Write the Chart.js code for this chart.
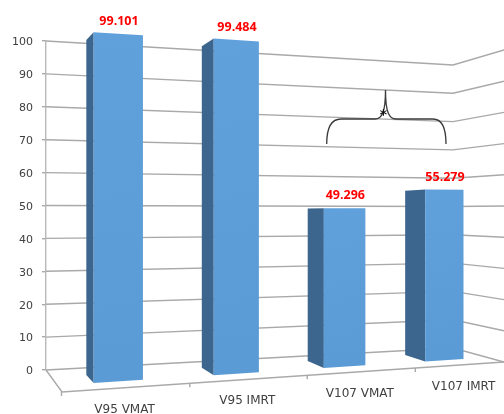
<!DOCTYPE html>
<html>
<head>
<meta charset="utf-8">
<script src="https://cdn.jsdelivr.net/npm/chart.js@4/dist/chart.umd.min.js"></script>
<style>
    html, body { margin: 0; padding: 0; background: #fff; }
    canvas { display: block; }
</style>
</head>
<body>
<canvas id="chart" width="504" height="414"></canvas>
<script>
const categories = ['V95 VMAT', 'V95 IMRT', 'V107 VMAT', 'V107 IMRT'];
const values = [99.101, 99.484, 49.296, 55.279];
const valueLabels = ['99.101', '99.484', '49.296', '55.279'];

const FRONT_COLOR = '#5b9bd5';
const SIDE_COLOR = '#3c668e';
const GRID_COLOR = '#a9a9a9';

// Excel style 3D view: the y scale is the left wall, everything else is projected from it
function stepPos(chart, u) {
    const xs = chart.scales.x;
    const p0 = xs.getPixelForValue(0);
    return (u - p0) / (xs.getPixelForValue(1) - p0);
}

function screenX(t) {
    return (118.5 + 128.61 * t) / (1 + 0.04487 * t);
}

function backX(x) {
    return 0.9616 * x - 3.7;
}

function forwardX(x) {
    return (x + 3.7) / 0.9616;
}

function frontY(x, v) {
    return 383 - 0.065 * (x - 94) - v * (3.54 - 0.0013 * (x - 94));
}

function backY(x, v) {
    return 375 - 0.0628 * (x - 86.7) - v * (3.38 - 0.00129 * (x - 86.7));
}

function floorY(x) {
    return 392 - 0.0678 * (x - 62);
}

function drawWalls(chart, ctx) {
    const ys = chart.scales.y;
    const left = chart.chartArea.left;
    ctx.strokeStyle = GRID_COLOR;
    ctx.lineWidth = 1.4;
    ys.ticks.forEach(tick => {
        ctx.beginPath();
        ctx.moveTo(left, ys.getPixelForValue(tick.value));
        ctx.lineTo(453, 348 - 2.83 * tick.value);
        ctx.lineTo(504, 362 - 3.12 * tick.value);
        ctx.stroke();
    });

    // Floor outline and the category tick marks
    ctx.beginPath();
    ctx.moveTo(left, ys.getPixelForValue(0));
    ctx.lineTo(62, floorY(62));
    ctx.lineTo(504, floorY(504));
    ctx.stroke();
    for (let i = 0; i <= categories.length - 1; i++) {
        const x = forwardX(screenX(i - 0.5));
        ctx.beginPath();
        ctx.moveTo(x, floorY(x));
        ctx.lineTo(x, floorY(x) + 4);
        ctx.stroke();
    }

    // Tick labels sit a little lower than the scale would put them
    ctx.fillStyle = '#404040';
    ctx.font = '11px "DejaVu Sans"';
    ctx.textAlign = 'right';
    ctx.textBaseline = 'middle';
    ys.ticks.forEach(tick => {
        ctx.fillText(tick.label, 33, ys.getPixelForValue(tick.value) + 1.5);
    });
}

function drawBar(chart, ctx, bar, value, color) {
    const halfWidth = bar.width / 2;
    const x0 = screenX(stepPos(chart, bar.x - halfWidth));
    const x1 = screenX(stepPos(chart, bar.x + halfWidth));
    const xb = backX(x0);

    ctx.fillStyle = SIDE_COLOR;
    ctx.beginPath();
    ctx.moveTo(xb, backY(xb, value));
    ctx.lineTo(x0, frontY(x0, value));
    ctx.lineTo(x0, frontY(x0, 0));
    ctx.lineTo(xb, backY(xb, 0));
    ctx.closePath();
    ctx.fill();

    const shade = ctx.createLinearGradient(x0, frontY(x0, value), x1, frontY(x1, 0));
    shade.addColorStop(0, '#60a0db');
    shade.addColorStop(1, color);
    ctx.fillStyle = shade;
    ctx.beginPath();
    ctx.moveTo(x0, frontY(x0, value));
    ctx.lineTo(x1, frontY(x1, value));
    ctx.lineTo(x1, frontY(x1, 0));
    ctx.lineTo(x0, frontY(x0, 0));
    ctx.closePath();
    ctx.fill();
}

function drawBracket(ctx) {
    ctx.strokeStyle = '#3a3a3a';
    ctx.lineWidth = 1.3;
    ctx.beginPath();
    ctx.moveTo(326.7, 144);
    ctx.bezierCurveTo(326.7, 128, 331, 119, 341, 119);
    ctx.lineTo(375, 119);
    ctx.bezierCurveTo(382, 119, 385.5, 112, 385.5, 90);
    ctx.bezierCurveTo(385.5, 112, 389, 119, 396, 119);
    ctx.lineTo(433, 119);
    ctx.bezierCurveTo(442, 119, 446, 128, 446, 144);
    ctx.stroke();

    ctx.fillStyle = '#111';
    ctx.font = 'bold 14px "DejaVu Sans"';
    ctx.textAlign = 'center';
    ctx.textBaseline = 'middle';
    ctx.fillText('*', 383.5, 115);
}

const view3d = {
    id: 'view3d',
    beforeDatasetsDraw(chart) {
        const ctx = chart.ctx;
        const meta = chart.getDatasetMeta(0);
        const dataset = chart.data.datasets[0];
        ctx.save();
        drawWalls(chart, ctx);
        drawBracket(ctx);

        meta.data.forEach((bar, i) => {
            drawBar(chart, ctx, bar, dataset.data[i], dataset.backgroundColor);
        });

        meta.data.forEach((bar, i) => {
            const t = stepPos(chart, bar.x);
            const x = screenX(t);

            // Value above the bar
            ctx.fillStyle = '#ff0000';
            ctx.font = 'bold 12.5px "Open Sans"';
            ctx.textAlign = 'center';
            ctx.textBaseline = 'middle';
            ctx.fillText(valueLabels[i], x + 0.5, frontY(x, dataset.data[i]) - 12.5);

            // Category name under the floor
            const fx = forwardX(x);
            ctx.fillStyle = '#404040';
            ctx.font = '12px "DejaVu Sans"';
            ctx.fillText(chart.data.labels[i], fx - 2.5, floorY(fx) + 22);
        });
        ctx.restore();
        return false;
    }
};

new Chart(document.getElementById('chart').getContext('2d'), {
    type: 'bar',
    data: {
        labels: categories,
        datasets: [{
            data: values,
            backgroundColor: FRONT_COLOR,
            barPercentage: 0.4,
            categoryPercentage: 1
        }]
    },
    options: {
        responsive: false,
        animation: false,
        layout: { padding: { top: 41, bottom: 44 } },
        plugins: {
            legend: { display: false },
            title: { display: false },
            tooltip: { enabled: false }
        },
        scales: {
            x: { display: false },
            y: {
                min: 0,
                max: 100,
                afterFit: scale => { scale.width = 46; },
                ticks: {
                    stepSize: 10,
                    display: false
                },
                grid: {
                    drawOnChartArea: false,
                    tickLength: 4,
                    lineWidth: 1.4,
                    color: GRID_COLOR
                },
                border: { color: '#b8b8b8', width: 1.4 }
            }
        }
    },
    plugins: [view3d]
});
</script>
</body>
</html>
